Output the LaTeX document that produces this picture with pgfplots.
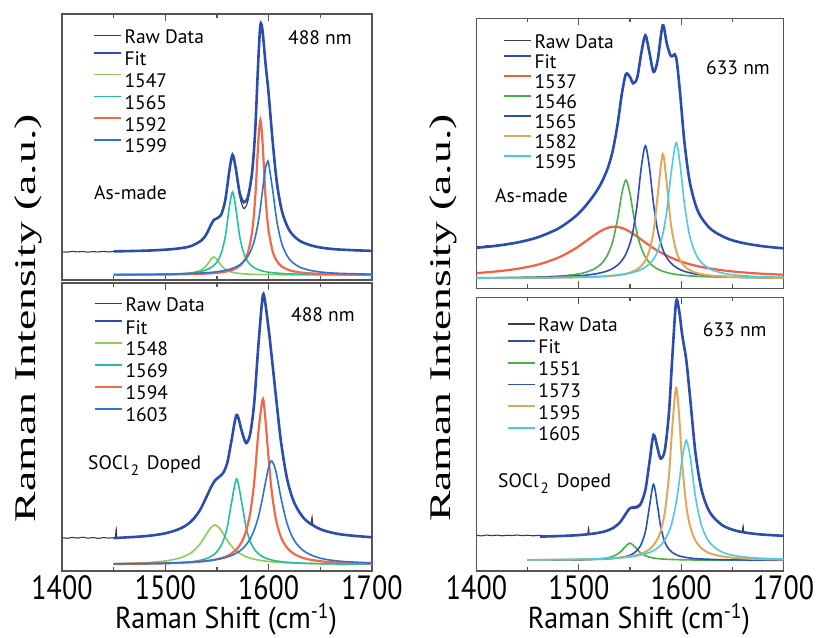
\documentclass[border=0pt]{standalone}
\usepackage{pgfplots}
\pgfplotsset{compat=1.18}
\usepackage{pgfplotstable}
\usepackage{graphicx}
\usepackage{fontspec}
\setmainfont{PT Sans}
\newfontfamily\serifyl{Liberation Serif}

\definecolor{axc}{HTML}{555555}
\definecolor{rawc}{HTML}{3C3C3C}
\definecolor{fitc}{HTML}{2B4DB0}
\definecolor{lgreen}{HTML}{8DCB55}
\definecolor{teal1}{HTML}{22BFA0}
\definecolor{red1}{HTML}{EE6A4A}
\definecolor{blue1}{HTML}{2E72D8}
\definecolor{red2}{HTML}{F2603F}
\definecolor{green2}{HTML}{4CAE48}
\definecolor{blue2}{HTML}{2C4FB4}
\definecolor{gold2}{HTML}{DFA85A}
\definecolor{cyan2}{HTML}{4FC8E6}

\newcommand{\lf}{\fontsize{19.5}{21}\selectfont}
\newcommand{\tf}{\fontsize{28}{30}\selectfont}

% Panel A: left top (488 nm, as-made)
\pgfplotstableread{
x fit g t r b
1450 28.6 5.1 5.3 5.2 5.4
1480 29.3 5.2 5.5 5.3 5.6
1500 30.3 5.4 5.8 5.5 5.8
1515 31.8 5.9 6.4 5.7 6.1
1525 34.0 6.9 7.1 5.9 6.5
1535 39.6 10.1 8.7 6.2 7.0
1540 46.3 14.6 10.3 6.4 7.3
1544 54.8 20.5 12.3 6.7 7.6
1547 60.1 23.0 14.6 6.9 7.9
1550 61.8 20.5 18.1 7.2 8.3
1554 65.3 14.6 26.5 7.6 8.9
1558 79.8 10.7 43.4 8.3 9.7
1562 109.6 8.6 73.4 9.2 10.7
1565 125.2 7.7 88.0 10.1 11.7
1568 112.5 7.0 73.4 11.5 12.9
1572 86.9 6.5 43.4 14.1 15.2
1576 77.7 6.1 26.5 18.8 18.6
1580 83.5 5.9 18.1 27.9 23.8
1584 108.1 5.7 13.7 48.5 32.5
1587 150.2 5.6 11.7 82.5 42.8
1590 220.4 5.5 10.3 138.6 58.3
1592 255.1 5.5 9.6 160.0 72.3
1594 249.7 5.4 9.0 138.6 89.0
1597 216.0 5.4 8.3 82.5 112.1
1599 196.3 5.4 7.9 57.4 118.0
1600 185.9 5.4 7.8 48.5 116.5
1604 137.1 5.3 7.2 27.9 89.0
1608 96.9 5.3 6.9 18.8 58.3
1613 68.2 5.2 6.5 13.3 35.4
1620 49.7 5.2 6.1 9.8 20.9
1630 39.2 5.1 5.8 7.6 12.9
1645 33.5 5.1 5.5 6.4 8.7
1665 30.7 5.1 5.3 5.7 6.8
1700 29.1 5.0 5.2 5.3 5.8
}\tabA
\pgfplotstableread{
x y
1400 28.3
1405 27.9
1410 28.6
1415 28.1
1420 28.5
1425 27.8
1430 28.4
1435 28.0
1440 28.6
1445 28.1
1450 28.5
1460 28.8
1480 29.2
1500 30.4
1515 31.9
1525 34.2
1535 39.8
1540 46.0
1544 54.5
1547 60.0
1550 61.5
1554 65.0
1558 79.0
1562 109.0
1565 124.5
1568 111.0
1572 83.5
1576 71.5
1580 79.5
1584 106.5
1587 149.5
1590 220.0
1592 254.5
1594 249.5
1597 216.5
1599 196.5
1600 186.0
1604 137.5
1608 97.0
1613 68.5
1620 50.0
1630 39.5
1645 33.8
1665 30.5
1680 29.7
1690 29.0
1700 28.8
}\rawA

% Panel B: left bottom (488 nm, doped)
\pgfplotstableread{
x fit g t r b
1450 32.9 7.4 6.9 7.0 7.1
1480 34.8 8.3 7.2 7.3 7.5
1500 37.7 10.0 7.6 7.7 7.9
1515 42.7 13.3 8.3 8.2 8.4
1525 49.6 18.3 9.2 8.7 8.9
1533 60.0 26.3 10.5 9.3 9.5
1540 74.5 37.3 12.5 10.0 10.1
1544 83.5 43.4 14.4 10.6 10.6
1548 90.4 46.0 17.3 11.3 11.2
1552 94.1 43.4 22.0 12.3 11.9
1556 98.1 37.3 30.0 13.5 12.8
1560 108.4 30.6 44.2 15.1 14.0
1564 130.3 25.0 68.0 17.4 15.5
1569 156.1 19.8 92.0 21.8 18.0
1574 139.7 16.4 68.0 29.2 21.6
1578 128.4 14.4 44.2 39.4 25.9
1582 136.5 12.9 30.0 57.1 32.0
1586 168.0 11.8 22.0 88.8 40.9
1590 225.0 11.0 17.3 138.1 54.1
1594 273.0 10.3 14.4 171.0 72.7
1596 272.9 10.0 13.4 161.3 83.7
1600 241.6 9.5 11.8 111.8 103.9
1603 213.8 9.2 11.0 79.1 110.0
1607 174.9 8.9 10.1 51.7 99.7
1612 128.8 8.6 9.4 33.6 72.7
1618 91.3 8.2 8.7 23.0 46.9
1625 67.7 7.9 8.2 16.8 30.2
1635 51.7 7.6 7.7 12.5 19.3
1650 41.8 7.3 7.3 9.8 12.8
1670 36.6 7.1 7.0 8.3 9.7
1700 33.7 6.9 6.8 7.4 8.1
}\tabB
\pgfplotstableread{
x y
1400 33.4
1405 32.7
1410 33.6
1415 32.9
1420 33.8
1425 32.8
1430 33.5
1435 32.6
1440 33.4
1445 32.9
1450 33.3
1451.5 33.0
1452.5 41.5
1453.5 33.0
1460 33.7
1470 34.2
1480 34.9
1490 35.8
1500 37.5
1510 40.5
1515 42.8
1520 45.5
1525 50.5
1529 55.0
1533 60.3
1540 74.0
1544 83.0
1548 90.5
1552 94.5
1556 98.0
1560 108.0
1564 130.0
1569 156.0
1574 139.0
1578 127.0
1582 135.5
1586 167.5
1590 225.0
1594 273.5
1596 273.0
1600 241.5
1603 214.0
1607 175.0
1612 129.0
1618 91.5
1625 68.0
1635 52.0
1639 48.3
1641 47.0
1642 54.0
1643 46.4
1650 42.2
1655 40.0
1660 39.0
1665 37.2
1670 36.8
1675 35.5
1680 35.8
1685 34.6
1690 34.9
1695 33.8
1700 34.0
}\rawB

% Panel C: right top (633 nm, as-made)
\pgfplotstableread{
x fit R G B O C
1400 40.5 15.2 10.5 10.4 10.2 10.3
1420 42.6 16.9 10.6 10.5 10.2 10.4
1440 45.8 19.5 10.9 10.7 10.3 10.5
1460 51.0 23.7 11.3 11.0 10.4 10.6
1480 59.8 30.7 12.2 11.5 10.6 10.8
1495 70.5 38.8 13.6 12.2 10.8 11.1
1505 80.5 45.7 15.5 12.9 11.0 11.3
1515 93.6 53.1 19.3 14.2 11.3 11.7
1522 105.4 57.6 24.5 15.6 11.7 12.0
1528 119.4 60.4 33.2 17.4 12.1 12.4
1533 137.0 61.5 46.5 19.7 12.5 12.8
1538 164.9 61.4 69.9 23.3 13.1 13.3
1542 194.2 60.4 94.7 27.6 13.7 13.8
1546 214.2 58.7 108.3 34.3 14.5 14.4
1550 211.2 56.4 94.7 45.1 15.7 15.2
1553 205.0 54.5 76.0 57.7 16.8 16.0
1557 210.4 51.7 54.5 84.1 19.0 17.2
1561 235.0 48.7 40.3 120.7 22.4 18.9
1565 252.9 45.7 31.3 142.6 28.0 21.2
1569 235.6 42.9 25.6 120.7 37.9 24.5
1573 216.4 40.1 21.9 84.1 56.9 29.4
1577 228.0 37.6 19.3 57.7 92.3 37.1
1582 263.0 34.7 17.0 39.0 134.3 53.9
1586 244.5 32.6 15.8 30.6 103.7 77.8
1590 232.2 30.7 14.8 25.2 63.9 113.6
1595 231.0 28.6 13.9 21.0 37.9 145.6
1599 194.4 27.1 13.4 18.7 28.0 123.2
1603 147.9 25.7 12.9 17.0 22.4 85.8
1608 108.6 24.2 12.5 15.6 18.4 53.9
1614 83.6 22.6 12.1 14.3 15.7 34.9
1620 70.2 21.3 11.8 13.5 14.1 25.6
1630 58.3 19.5 11.4 12.5 12.6 18.4
1645 49.8 17.4 11.0 11.7 11.5 14.3
1660 45.4 15.9 10.8 11.2 11.0 12.6
1680 42.0 14.5 10.5 10.8 10.6 11.5
1700 40.0 13.6 10.4 10.6 10.4 11.0
}\tabC
\pgfplotstableread{
x y
1400 42.0
1405 41.3
1410 42.6
1415 42.0
1420 43.2
1425 43.4
1430 44.6
1440 46.2
1460 51.3
1480 60.0
1495 70.5
1505 80.8
1515 93.5
1522 105.5
1528 119.5
1533 137.0
1538 165.0
1542 194.5
1546 214.5
1550 211.0
1553 205.0
1557 210.0
1561 235.0
1565 253.5
1569 235.5
1573 216.5
1577 228.5
1582 263.5
1586 244.5
1590 232.5
1593 234.5
1595 231.5
1599 194.5
1603 148.0
1608 108.5
1614 83.5
1620 70.0
1630 58.5
1645 49.8
1660 45.2
1670 43.6
1680 42.2
1690 40.8
1700 40.3
}\rawC

% Panel D: right bottom (633 nm, doped)
\pgfplotstableread{
x fit g b o c
1450 nan 10.8 10.9 11.1 11.1
1462 34.4 10.9 10.9 11.2 11.2
1480 34.9 11.0 11.0 11.3 11.4
1500 35.9 11.2 11.2 11.6 11.7
1515 37.5 11.8 11.6 11.9 12.0
1525 39.5 12.7 11.9 12.3 12.4
1533 42.7 14.5 12.5 12.8 12.8
1540 48.4 18.4 13.3 13.3 13.2
1545 55.8 23.9 14.3 13.8 13.6
1550 62.8 28.0 15.8 14.6 14.2
1555 63.3 23.9 18.8 15.6 14.9
1560 66.2 18.4 24.8 17.0 15.8
1565 81.0 15.3 39.2 19.1 17.1
1569 108.7 13.9 64.4 21.8 18.5
1573 136.1 13.0 86.7 25.8 20.4
1577 122.4 12.4 64.4 32.3 23.1
1580 112.4 12.1 44.1 40.1 25.8
1584 120.6 11.8 29.0 58.5 31.1
1588 157.4 11.6 21.8 94.5 39.3
1591 208.0 11.5 18.8 139.0 48.5
1595 268.9 11.4 16.3 183.4 67.6
1598 260.4 11.3 15.1 155.3 88.5
1601 236.1 11.2 14.3 107.8 112.6
1605 210.8 11.2 13.5 65.3 130.7
1609 170.4 11.1 12.9 43.7 112.6
1614 117.9 11.0 12.4 30.3 73.9
1620 80.8 11.0 12.0 22.6 45.1
1628 58.7 10.9 11.7 17.7 28.2
1640 45.9 10.9 11.3 14.6 18.9
1655 39.9 10.8 11.1 12.9 14.9
1675 36.8 10.8 11.0 11.9 12.9
1700 35.2 10.8 10.9 11.4 11.9
}\tabD
\pgfplotstableread{
x y
1400 35.7
1405 35.1
1410 36.0
1415 35.3
1420 35.9
1425 35.2
1430 35.8
1435 35.4
1440 36.0
1445 35.3
1450 35.8
1455 35.2
1462 35.6
1470 35.1
1480 35.5
1490 35.0
1500 35.9
1505 36.4
1508.5 36.6
1509.5 43.0
1510.5 36.8
1515 37.6
1525 39.8
1533 42.9
1540 48.6
1545 56.5
1550 63.5
1555 64.5
1560 67.5
1565 81.5
1569 108.5
1573 136.0
1577 121.5
1580 113.0
1584 120.0
1588 157.0
1591 208.0
1595 269.0
1598 260.5
1601 236.5
1603 222.0
1605 211.0
1609 170.5
1614 118.0
1620 81.5
1628 59.0
1640 46.3
1650 41.5
1655 40.2
1659.5 39.0
1660.5 45.0
1661.5 39.0
1668 37.6
1675 37.2
1680 36.3
1690 35.5
1700 35.3
}\rawD

\pgfplotsset{
  panel/.style={
    scale only axis, xmin=1400, xmax=1700, ymin=0,
    axis line style={draw=axc, line width=1.3pt},
    xtick={1400,1500,1600,1700},
    minor xtick={1450,1550,1650},
    xtick pos=both, ytick=\empty,
    tick align=inside,
    major tick length=7pt, minor tick length=4pt,
    tick style={draw=axc, line width=1.3pt},
    legend cell align=left,
    legend image code/.code={\draw[##1] (0pt,6pt) -- (27pt,6pt);},
    every axis plot/.append style={smooth},
  },
  leg/.style n args={3}{legend style={at={(#1,#2)}, anchor=north west,
    draw=none, fill=none, inner sep=0pt, outer sep=0pt, font=\lf,
    row sep=#3, column sep=2pt,
    nodes={inner sep=0pt, text height=13.7pt, text depth=0pt}}},
  toppanel/.style={xticklabels={}},
  botpanel/.style={
    xticklabels={\scalebox{1}[1.2]{1400},\scalebox{1}[1.2]{1500},\scalebox{1}[1.2]{1600},\scalebox{1}[1.2]{1700}},
    xticklabel style={font=\tf, inner sep=0pt, yshift=-4pt},
    xlabel={\scalebox{1}[1.08]{Raman Shift (cm\smash{\textsuperscript{-1}})}},
    xlabel style={at={(axis description cs:0.529,0)}, anchor=base, yshift=-57.5pt, font=\tf, inner sep=0pt},
  },
  rawst/.style={draw=rawc, line width=1.1pt,
    legend image code/.code={\draw[##1] (0pt,1pt) -- (27pt,1pt);}},
  fitst/.style={draw=fitc, line width=2.6pt},
  cst/.style={draw=#1, line width=1.6pt},
}

\begin{document}
\begin{tikzpicture}
\useasboundingbox (0pt,0pt) rectangle (816pt,637pt);

% ---------- Panel A ----------
\begin{axis}[panel, toppanel, at={(62pt,357pt)}, anchor=south west,
  width=310pt, height=266pt, ymax=266, leg={0.1}{0.94}{8.0pt}]
\addplot[rawst] table[x=x,y=y] {\rawA};
\addplot[fitst] table[x=x,y=fit] {\tabA};
\addplot[cst=lgreen] table[x=x,y=g] {\tabA};
\addplot[cst=teal1] table[x=x,y=t] {\tabA};
\addplot[cst=red1, line width=2.2pt] table[x=x,y=r] {\tabA};
\addplot[cst=blue1] table[x=x,y=b] {\tabA};
\legend{Raw Data, Fit, 1547, 1565, 1592, 1599}
\node[font=\lf, anchor=base east, inner sep=0pt] at (axis cs:1680.6,235.3) {488 nm};
\node[font=\lf, anchor=base west, inner sep=0pt] at (axis cs:1431,80) {As-made};
\end{axis}

% ---------- Panel B ----------
\begin{axis}[panel, botpanel, at={(62pt,66pt)}, anchor=south west,
  width=310pt, height=288pt, ymax=288, leg={0.103}{0.948}{8.2pt},
  ylabel={\scalebox{1.52}[1]{\serifyl\fontsize{30}{32}\selectfont Raman Intensity (a.u.)}},
  ylabel style={at={(axis description cs:-0.11,0.878)}, anchor=center, inner sep=0pt}]
\addplot[rawst] table[x=x,y=y] {\rawB};
\addplot[fitst] table[x=x,y=fit] {\tabB};
\addplot[cst=lgreen] table[x=x,y=g] {\tabB};
\addplot[cst=teal1] table[x=x,y=t] {\tabB};
\addplot[cst=red1, line width=2.2pt] table[x=x,y=r] {\tabB};
\addplot[cst=blue1] table[x=x,y=b] {\tabB};
\legend{Raw Data, Fit, 1548, 1569, 1594, 1603}
\node[font=\lf, anchor=base east, inner sep=0pt] at (axis cs:1683.5,249.7) {488 nm};
\node[font=\lf, anchor=base west, inner sep=0pt] at (axis cs:1425.2,102) {SOCl\hspace{2pt}\raisebox{-6pt}{\fontsize{15}{15}\selectfont 2}\hspace{8pt}Doped};
\end{axis}

% ---------- Panel C ----------
\begin{axis}[panel, toppanel, at={(476.5pt,348.7pt)}, anchor=south west,
  width=307pt, height=270pt, ymax=270, leg={0.086}{0.939}{6.2pt}]
\addplot[rawst] table[x=x,y=y] {\rawC};
\addplot[fitst] table[x=x,y=fit] {\tabC};
\addplot[cst=red2, line width=2.2pt] table[x=x,y=R] {\tabC};
\addplot[cst=green2] table[x=x,y=G] {\tabC};
\addplot[cst=blue2] table[x=x,y=B] {\tabC};
\addplot[cst=gold2, line width=2pt] table[x=x,y=O] {\tabC};
\addplot[cst=cyan2] table[x=x,y=C] {\tabC};
\legend{Raw Data, Fit, 1537, 1546, 1565, 1582, 1595}
\node[font=\lf, anchor=base east, inner sep=0pt] at (axis cs:1686.8,213.3) {633 nm};
\node[font=\lf, anchor=base west, inner sep=0pt] at (axis cs:1418.1,85.3) {As-made};
\end{axis}

% ---------- Panel D ----------
\begin{axis}[panel, botpanel, at={(476.5pt,66pt)}, anchor=south west,
  width=307pt, height=273.7pt, ymax=273.7, leg={0.099}{0.924}{8.0pt},
  ylabel={\scalebox{1.52}[1]{\serifyl\fontsize{30}{32}\selectfont Raman Intensity (a.u.)}},
  ylabel style={at={(axis description cs:-0.109,0.924)}, anchor=center, inner sep=0pt}]
\addplot[rawst] table[x=x,y=y] {\rawD};
\addplot[fitst] table[x=x,y=fit] {\tabD};
\addplot[cst=green2] table[x=x,y=g] {\tabD};
\addplot[cst=blue2] table[x=x,y=b] {\tabD};
\addplot[cst=gold2, line width=2pt] table[x=x,y=o] {\tabD};
\addplot[cst=cyan2] table[x=x,y=c] {\tabD};
\legend{Raw Data, Fit, 1551, 1573, 1595, 1605}
\node[font=\lf, anchor=base east, inner sep=0pt] at (axis cs:1683.6,234.4) {633 nm};
\node[font=\lf, anchor=base west, inner sep=0pt] at (axis cs:1421,83.7) {SOCl\hspace{2pt}\raisebox{-6pt}{\fontsize{15}{15}\selectfont 2}\hspace{8pt}Doped};
\end{axis}
\end{tikzpicture}
\end{document}
